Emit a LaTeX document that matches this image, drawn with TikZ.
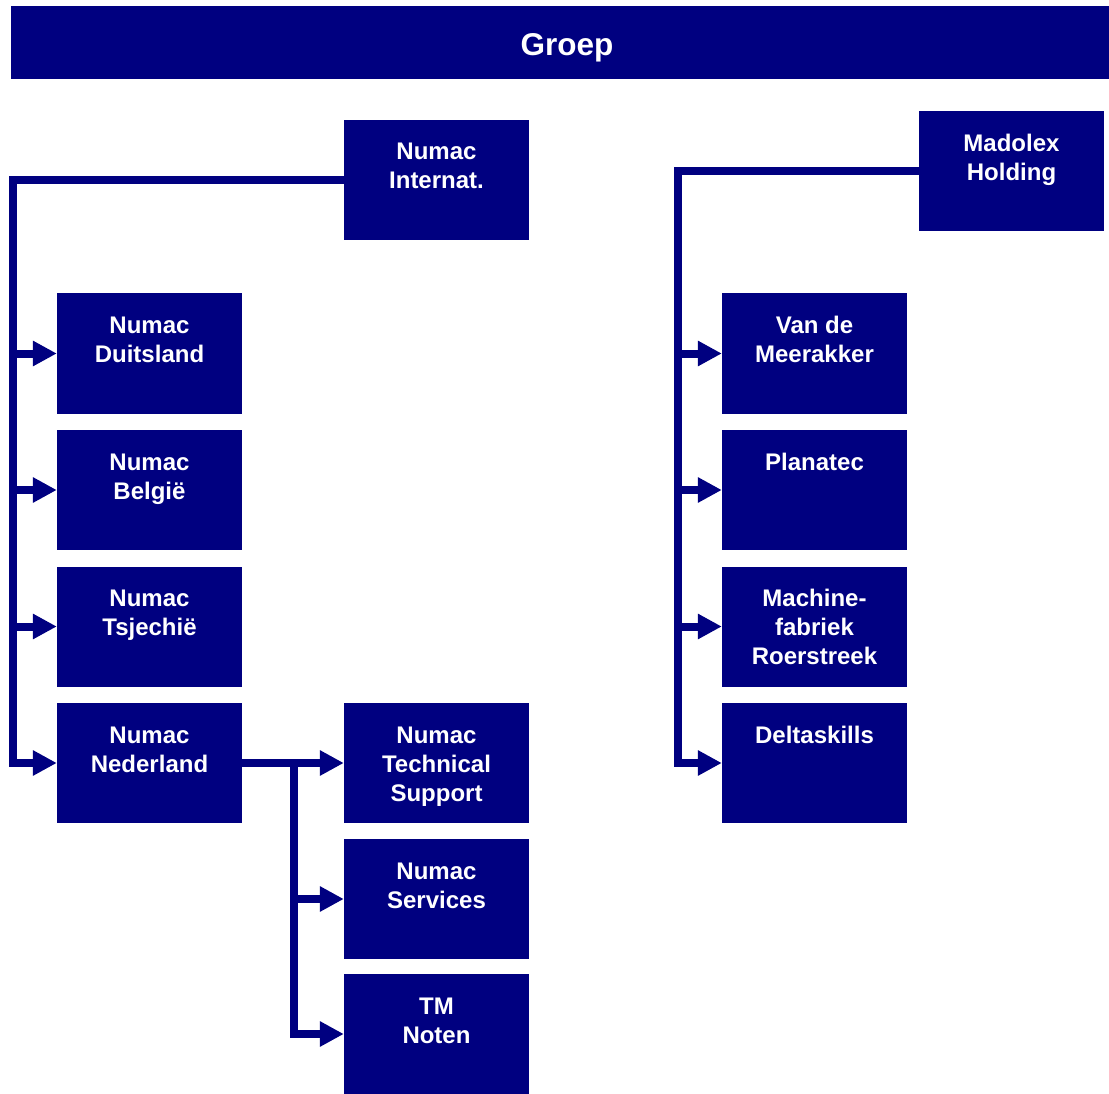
\documentclass[tikz,border=0pt]{standalone}
\usepackage{fontspec}
\setmainfont{Liberation Sans}
\usetikzlibrary{arrows.meta}
\definecolor{navy}{HTML}{000080}
\newcommand{\bxt}[1]{\parbox[c][120pt][t]{185pt}{\centering\fontsize{24}{29}\selectfont\bfseries\rule{0pt}{40pt}#1\par}}
\begin{document}
\begin{tikzpicture}[x=1pt,y=-1pt,
  orgbox/.style={fill=navy,text=white,inner sep=0pt,minimum width=185pt,minimum height=120pt},
  conn/.style={draw=navy,line width=8pt,line join=miter},
  arr/.style={conn,-{Triangle[length=24pt,width=24pt,fill=navy]}}]
\useasboundingbox (0,0) rectangle (1109,1094);
\node[fill=navy,text=white,minimum width=1098pt,minimum height=73pt,inner sep=0pt,font=\fontsize{31.5}{36}\selectfont\bfseries] (groep) at (560,42.5) {\hspace{14pt}\rule{0pt}{32pt}Groep};
\node[orgbox] (inter) at (436.5,180) {\bxt{Numac\\Internat.}};
\node[orgbox] (mad) at (1011.5,171.5) {\bxt{Madolex\\Holding}};
\node[orgbox] (dui) at (149.5,353.5) {\bxt{Numac\\Duitsland}};
\node[orgbox] (bel) at (149.5,490) {\bxt{Numac\\België}};
\node[orgbox] (tsj) at (149.5,626.5) {\bxt{Numac\\Tsjechië}};
\node[orgbox] (ned) at (149.5,763) {\bxt{Numac\\Nederland}};
\node[orgbox] (tech) at (436.5,763) {\bxt{Numac\\Technical\\Support}};
\node[orgbox] (serv) at (436.5,899) {\bxt{Numac\\Services}};
\node[orgbox] (tm) at (436.5,1034) {\bxt{TM\\Noten}};
\node[orgbox] (vdm) at (814.5,353.5) {\bxt{Van de\\Meerakker}};
\node[orgbox] (plan) at (814.5,490) {\bxt{Planatec}};
\node[orgbox] (mach) at (814.5,626.5) {\bxt{Machine-\\fabriek\\Roerstreek}};
\node[orgbox] (del) at (814.5,763) {\bxt{Deltaskills}};
\coordinate (lb) at (13,763);
\coordinate (mb) at (293.5,763);
\coordinate (rb) at (678,763);
% left trunk
\draw[arr] (inter.west) -| (lb) -- (ned.west);
\draw[arr] (dui.west -| lb) -- (dui.west);
\draw[arr] (bel.west -| lb) -- (bel.west);
\draw[arr] (tsj.west -| lb) -- (tsj.west);
% middle
\draw[arr] (ned.east) -- (tech.west);
\draw[arr] (mb) |- (tm.west);
\draw[arr] (serv.west -| mb) -- (serv.west);
% right trunk
\draw[arr] (mad.west) -| (rb) -- (del.west);
\draw[arr] (vdm.west -| rb) -- (vdm.west);
\draw[arr] (plan.west -| rb) -- (plan.west);
\draw[arr] (mach.west -| rb) -- (mach.west);
\end{tikzpicture}
\end{document}
